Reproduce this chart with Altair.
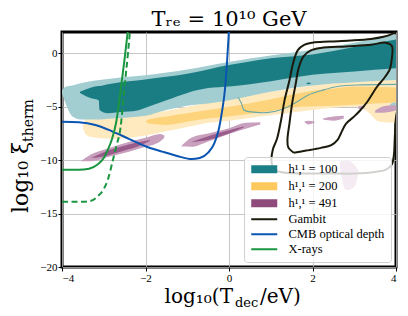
import altair as alt
import pandas as pd

# ---------------- data ----------------
# h11 = 100 (teal) outer / inner levels
lt_x = [-4.0, -3.9, -3.75, -3.5, -3.2, -2.8, -2.4, -2.0, -1.5, -1.0, -0.5, 0.0, 1.0, 2.0, 3.0, 4.0]
lt_top = [-3.5, -3.1, -3.0, -2.75, -2.55, -2.35, -2.2, -2.05, -1.8, -1.5, -1.15, -0.8, -0.2, 0.35, 1.0, 1.8]
lt_bot = [-3.7, -4.8, -5.9, -6.2, -6.2, -6.1, -6.0, -5.85, -5.3, -4.9, -4.7, -4.4, -3.6, -3.0, -2.7, -2.5]
lt_patch_x = [3.85, 3.95, 4.0]
lt_patch_top = [-4.8, -4.6, -4.6]
lt_patch_bot = [-4.8, -5.0, -5.0]

dt_x = [-3.57, -3.3, -3.12, -3.1, -2.9, -2.6, -2.2, -2.0, -1.5, -1.0, -0.5, 0.0, 1.0, 2.0, 3.0, 4.0]
dt_top = [-3.6, -3.2, -3.05, -3.05, -2.9, -2.7, -2.55, -2.45, -2.2, -1.9, -1.5, -1.1, -0.45, -0.1, 0.6, 1.3]
dt_bot = [-3.7, -4.2, -4.4, -5.3, -5.6, -5.5, -5.35, -5.1, -4.4, -3.7, -3.25, -3.1, -2.6, -2.0, -1.7, -1.4]
dt_dot_x = [1.85, 1.9, 1.97]
dt_dot_top = [-2.8, -2.72, -2.8]
dt_dot_bot = [-2.8, -2.9, -2.8]

teal_line_x = [0.22, 0.3, 0.36, 0.6, 0.9, 1.3, 1.6, 1.9, 2.2, 2.6, 3.2, 4.0]
teal_line_y = [-4.1, -4.7, -5.3, -5.5, -5.55, -5.2, -4.6, -3.9, -3.5, -3.1, -2.95, -2.9]

# h11 = 200 (yellow)
ly_x = [-3.5, -3.4, -3.2, -2.8, -2.4, -2.0, -1.5, -1.0, -0.5, 0.0, 1.0, 2.0, 3.0, 3.3, 3.6, 4.0]
ly_top = [-6.8, -6.0, -5.9, -5.8, -5.7, -5.6, -5.4, -5.0, -4.6, -4.2, -3.6, -3.0, -2.6, -2.5, -2.4, -2.3]
ly_bot = [-7.0, -7.7, -7.9, -8.0, -7.9, -7.7, -7.3, -6.9, -6.5, -6.3, -5.8, -5.3, -5.0, -5.4, -6.4, -6.5]

dy_x = [-2.0, -1.9, -1.5, -1.0, -0.5, 0.0, 1.0, 1.7, 2.5, 3.0, 4.0]
dy_top = [-6.35, -6.15, -5.9, -5.6, -5.3, -5.0, -4.3, -3.7, -3.3, -3.1, -3.2]
dy_bot = [-6.35, -6.6, -6.7, -6.4, -6.1, -5.9, -5.4, -5.0, -4.9, -4.8, -4.6]

# h11 = 491 (purple streaks): id, x, top, bottom
lp_id = [1]*7 + [2]*6 + [3]*3 + [4]*3 + [5]*2 + [6]*4 + [7]*4
lp_x = [-3.55, -3.3, -2.9, -2.4, -2.0, -1.65, -1.55,
        -1.15, -0.9, -0.5, 0.0, 0.4, 0.75,
        1.8, 1.9, 2.05,
        2.25, 2.5, 2.75,
        3.1, 3.25,
        3.5, 3.7, 3.9, 4.0,
        2.65, 2.8, 3.0, 3.1]
lp_top = [-10.1, -9.45, -8.9, -8.3, -7.9, -7.55, -7.7,
          -8.7, -7.9, -7.5, -7.0, -6.5, -6.45,
          -6.4, -6.3, -6.4,
          -6.1, -5.9, -5.85,
          -4.95, -4.9,
          -5.35, -4.95, -4.85, -4.85,
          -10.2, -10.0, -10.4, -11.0]
lp_bot = [-10.1, -10.1, -9.7, -9.2, -8.75, -8.25, -7.9,
          -8.7, -8.75, -8.25, -7.55, -7.05, -6.65,
          -6.4, -6.65, -6.5,
          -6.2, -6.3, -6.1,
          -5.2, -5.15,
          -5.55, -5.55, -5.45, -5.35,
          -10.6, -12.8, -12.5, -11.2]

dp_id = [1]*5 + [2]*4
dp_x = [-3.3, -3.0, -2.6, -2.2, -1.9, -0.9, -0.5, 0.0, 0.35]
dp_top = [-9.8, -9.25, -8.75, -8.35, -8.1, -8.3, -7.75, -7.2, -6.85]
dp_bot = [-9.8, -9.65, -9.2, -8.75, -8.2, -8.3, -8.1, -7.5, -6.95]

# Gambit contours
ga_x = [4.05, 4.0, 3.97, 3.95, 3.9, 3.75, 3.5, 3.0, 2.4, 1.8, 1.3, 1.1, 1.02, 1.05, 1.15, 1.25, 1.33, 1.45, 1.53, 1.65, 1.8, 2.0, 2.4, 2.9, 3.4, 3.7, 3.9, 4.05]
ga_y = [-5.0, -6.0, -8.0, -9.5, -10.4, -10.9, -11.1, -11.25, -11.25, -11.25, -11.15, -10.9, -10.2, -9.0, -8.0, -6.2, -4.4, -2.5, -1.0, 0.3, 0.8, 1.0, 1.1, 1.2, 1.35, 1.55, 1.8, 2.1]
gb_x = [1.55, 1.42, 1.4, 1.45, 1.52, 1.6, 1.66, 1.78, 1.95, 2.2, 2.8, 3.4, 3.75, 3.9, 3.9, 3.85, 3.7, 3.55, 3.3, 3.15, 3.0, 2.8, 2.68, 2.6, 2.45, 2.2, 1.85, 1.55]
gb_y = [-9.3, -8.8, -8.1, -6.5, -4.5, -2.8, -1.5, -0.3, 0.25, 0.5, 0.65, 0.8, 1.0, 0.7, -0.5, -1.5, -2.4, -3.1, -4.6, -5.3, -5.9, -6.6, -7.5, -8.1, -8.6, -8.85, -9.1, -9.3]

# CMB optical depth
cmb_x = [-4.0, -3.6, -3.2, -2.8, -2.4, -2.0, -1.6, -1.2, -0.9, -0.7, -0.5, -0.35, -0.25, -0.17, -0.1, -0.05, 0.0]
cmb_y = [-6.4, -6.45, -6.7, -7.3, -8.0, -8.7, -9.2, -9.65, -9.9, -9.8, -9.3, -8.4, -7.2, -5.5, -3.5, -1.0, 2.2]

# X-rays (solid and dashed)
xr_x = [-4.0, -3.6, -3.35, -3.15, -3.0, -2.9, -2.8, -2.7, -2.6, -2.5, -2.45, -2.42]
xr_y = [-10.9, -10.9, -10.8, -10.4, -9.8, -9.0, -8.0, -6.4, -3.6, -0.5, 1.2, 2.2]
xd_x = [-4.0, -3.5, -3.3, -3.15, -3.0, -2.9, -2.8, -2.7, -2.6, -2.5, -2.42, -2.37]
xd_y = [-13.9, -13.9, -13.8, -13.4, -12.7, -11.8, -10.3, -8.7, -7.0, -3.0, 0.0, 2.2]

legend_names = ["h¹,¹ = 100", "h¹,¹ = 200", "h¹,¹ = 491", "Gambit", "CMB optical depth", "X-rays"]
legend_colors = ["#1a7f86", "#fec95c", "#8f4b7b", "#1b1a0c", "#0a54b2", "#1a9641"]

x_ticks = [-4, -2, 0, 2, 4]
y_ticks = [-20, -15, -10, -5, 0]

title_text = ["Tᵣₑ = 10¹⁰ GeV"]
xlabel_parts = ["log₁₀(T", "dec", "/eV)"]
ylabel_parts = ["log₁₀ ξ", "therm"]

# ---------------- chart ----------------
W, H = 334, 235
SERIF = "DejaVu Serif"
TICKFONT = "Liberation Serif"

xs = alt.Scale(domain=[-4, 4], nice=False, zero=False)
ys = alt.Scale(domain=[-20, 2], nice=False, zero=False)
xax = alt.Axis(values=x_ticks, title=None, format="d")
yax = alt.Axis(values=y_ticks, title=None, format="d")


def X(f="x"):
    return alt.X(f + ":Q", scale=xs, axis=xax)


def Y(f="y"):
    return alt.Y(f + ":Q", scale=ys, axis=yax)


def band(xv, top, bot, color, ids=None):
    df = pd.DataFrame({"x": xv, "y": top, "y2": bot,
                       "id": ids if ids is not None else [0] * len(xv)})
    return alt.Chart(df).mark_area(color=color, clip=True, interpolate="monotone").encode(
        x=X(), y=Y(), y2="y2:Q", detail="id:N")


def path(xv, yv, color, width=2, dash=None, ids=None, interp="catmull-rom"):
    df = pd.DataFrame({"x": xv, "y": yv, "o": list(range(len(xv))),
                       "id": ids if ids is not None else [0] * len(xv)})
    kw = dict(color=color, strokeWidth=width, clip=True, interpolate=interp)
    if dash:
        kw["strokeDash"] = dash
    return alt.Chart(df).mark_line(**kw).encode(x=X(), y=Y(), order="o:Q", detail="id:N")


layers = [
    band(ly_x, ly_top, ly_bot, "#ffeac0"),
    band(dy_x, dy_top, dy_bot, "#fdd47c"),
    band(lt_x + lt_patch_x, lt_top + lt_patch_top, lt_bot + lt_patch_bot, "#a2cdd1",
         ids=[0] * len(lt_x) + [1] * len(lt_patch_x)),
    band(dt_x + dt_dot_x, dt_top + dt_dot_top, dt_bot + dt_dot_bot, "#1a7d84",
         ids=[0] * len(dt_x) + [1] * len(dt_dot_x)),
    path(teal_line_x, teal_line_y, "#6aa8a6", width=1.1),
    band(lp_x, lp_top, lp_bot, "#c8a0be", ids=lp_id),
    band(dp_x, dp_top, dp_bot, "#9a5d8b", ids=dp_id),
    path(ga_x + gb_x, ga_y + gb_y, "#1b1a0c", width=2,
         ids=[0] * len(ga_x) + [1] * len(gb_x)),
    path(cmb_x, cmb_y, "#0a54b2", width=2, interp="monotone"),
    path(xr_x, xr_y, "#1a9641", width=2, interp="monotone"),
    path(xd_x, xd_y, "#1a9641", width=2, dash=[6, 3.5], interp="monotone"),
]

# legend (dummy points outside the domain, clipped away)
rect = "M-2.4,-0.6H2.4V0.6H-2.4Z"
seg = "M-2.6,0H2.6"
leg_df = pd.DataFrame({"name": legend_names, "x": [10] * 6, "y": [0] * 6})
leg = alt.Legend(title=None, orient="bottom-right", offset=5)
legend_layer = alt.Chart(leg_df).mark_point(filled=True, clip=True, strokeWidth=2, opacity=1).encode(
    x=X(), y=Y(),
    fill=alt.Fill("name:N", scale=alt.Scale(domain=legend_names, range=legend_colors), legend=leg),
    stroke=alt.Stroke("name:N", scale=alt.Scale(domain=legend_names, range=legend_colors), legend=leg),
    shape=alt.Shape("name:N", scale=alt.Scale(domain=legend_names, range=[rect, rect, rect, seg, seg, seg]), legend=leg),
)
layers.append(legend_layer)

# titles as text marks
t_df = pd.DataFrame({"t": title_text})
title_layer = alt.Chart(t_df).mark_text(font=SERIF, fontSize=21, baseline="alphabetic", align="center",
                                        color="black").encode(text="t:N", x=alt.value(W / 2), y=alt.value(-6))

xl0 = alt.Chart(pd.DataFrame({"t": [xlabel_parts[0]]})).mark_text(
    font=SERIF, fontSize=20, baseline="alphabetic", align="right", color="black").encode(
    text="t:N", x=alt.value(171), y=alt.value(271))
xl1 = alt.Chart(pd.DataFrame({"t": [xlabel_parts[1]]})).mark_text(
    font=SERIF, fontSize=13, baseline="alphabetic", align="left", color="black").encode(
    text="t:N", x=alt.value(173), y=alt.value(274.5))
xl2 = alt.Chart(pd.DataFrame({"t": [xlabel_parts[2]]})).mark_text(
    font=SERIF, fontSize=20, baseline="alphabetic", align="left", color="black").encode(
    text="t:N", x=alt.value(198), y=alt.value(271))

yl0 = alt.Chart(pd.DataFrame({"t": [ylabel_parts[0]]})).mark_text(
    font=SERIF, fontSize=22, baseline="alphabetic", align="left", angle=270, color="black").encode(
    text="t:N", x=alt.value(-34), y=alt.value(181))
yl1 = alt.Chart(pd.DataFrame({"t": [ylabel_parts[1]]})).mark_text(
    font=SERIF, fontSize=14, baseline="alphabetic", align="left", angle=270, color="black").encode(
    text="t:N", x=alt.value(-29), y=alt.value(110))

layers += [title_layer, xl0, xl1, xl2, yl0, yl1]

chart = alt.layer(*layers).properties(
    width=W, height=H,
    autosize=alt.AutoSizeParams(type="none"),
    padding={"left": 54, "top": 24, "right": 4, "bottom": 41},
).configure_view(
    stroke="black", strokeWidth=3
).configure_axis(
    domain=False, grid=True, gridColor="#b8b8b8", gridWidth=1, gridOpacity=0.8, zindex=1,
    tickColor="black", tickSize=4, tickWidth=1,
    labelFont=TICKFONT, labelFontSize=11, labelColor="black", labelPadding=1,
).configure_legend(
    fillColor="rgba(255,255,255,0.8)", strokeColor="#d0d0d0", cornerRadius=3, padding=6,
    labelFont=TICKFONT, labelFontSize=12.5, labelColor="black", labelOffset=18,
    symbolSize=100, symbolStrokeWidth=2, symbolOffset=8, symbolOpacity=1, rowPadding=2,
)

chart.save("out.html", embed_options={"renderer": "svg", "actions": False})
